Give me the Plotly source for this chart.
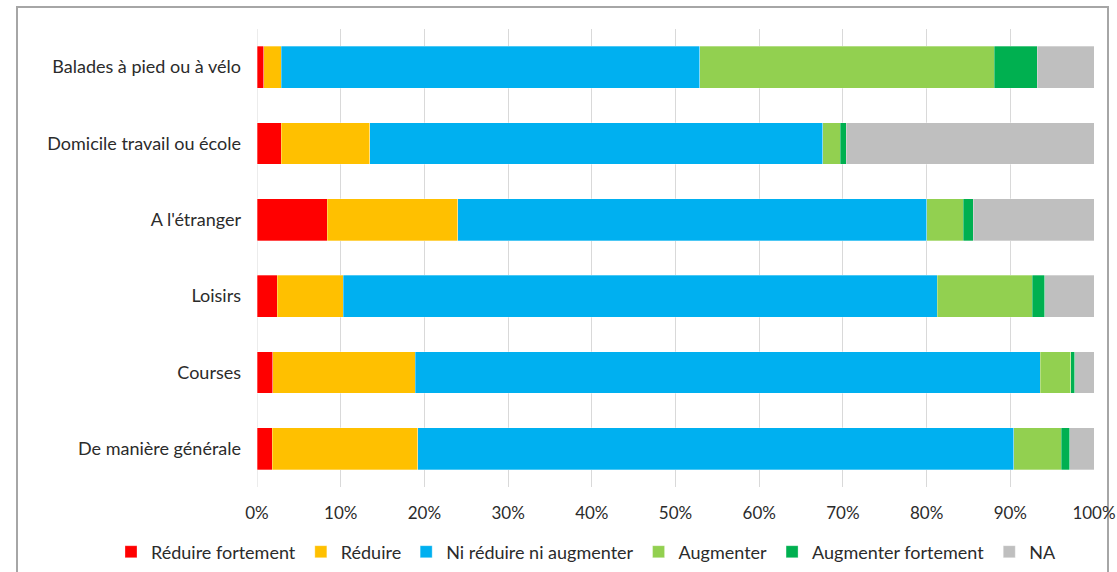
import plotly.graph_objects as go

categories = ["Balades à pied ou à vélo", "Domicile travail ou école", "A l'étranger",
              "Loisirs", "Courses", "De manière générale"]

series_names = ["Réduire fortement", "Réduire", "Ni réduire ni augmenter",
                "Augmenter", "Augmenter fortement", "NA"]

reduire_fortement = [0.8, 2.9, 8.4, 2.4, 1.9, 1.8]
reduire = [2.1, 10.6, 15.6, 7.9, 17.0, 17.4]
ni_reduire_ni_augmenter = [50.0, 54.1, 56.0, 71.0, 74.7, 71.2]
augmenter = [35.2, 2.1, 4.4, 11.3, 3.6, 5.7]
augmenter_fortement = [5.1, 0.7, 1.2, 1.5, 0.5, 1.0]
na = [6.8, 29.6, 14.5, 5.9, 2.3, 2.9]

tick_vals = [0, 10, 20, 30, 40, 50, 60, 70, 80, 90, 100]
tick_text = ["0%", "10%", "20%", "30%", "40%", "50%", "60%", "70%", "80%", "90%", "100%"]

colors = ["#FF0000", "#FFC000", "#00B0F0", "#92D050", "#00B050", "#BFBFBF"]
values = [reduire_fortement, reduire, ni_reduire_ni_augmenter, augmenter, augmenter_fortement, na]

FONT = "Lato, Noto Sans, sans-serif"
TXT = "#2b2b2b"

fig = go.Figure()
for name, vals, col in zip(series_names, values, colors):
    fig.add_trace(go.Bar(
        y=categories, x=vals, name=name, orientation="h",
        marker=dict(color=col, line=dict(color="rgba(255,255,255,0.5)", width=0.6)),
    ))

L, R, T, B = 257, 23, 29, 85
W, H = 1117, 572
pw = W - L - R
ph = H - T - B

def px_x(px):
    return (px - L) / pw

def px_y(py):
    return (H - B - py) / ph

fig.update_layout(
    barmode="stack",
    bargap=0.45,
    width=W, height=H,
    margin=dict(l=L, r=R, t=T, b=B, pad=0, autoexpand=False),
    paper_bgcolor="white",
    plot_bgcolor="white",
    font=dict(family=FONT, size=17, color=TXT),
    xaxis=dict(
        range=[0, 100], tickvals=tick_vals, ticktext=tick_text,
        showgrid=True, gridcolor="#D9D9D9", gridwidth=1,
        zeroline=False, showline=False, ticks="",
        ticklabelstandoff=14, tickfont=dict(size=17, family=FONT, color=TXT),
        fixedrange=True, automargin=False,
    ),
    yaxis=dict(
        categoryorder="array", categoryarray=categories, autorange="reversed",
        showgrid=False, zeroline=False, showline=False, ticks="",
        ticklabelstandoff=15, tickfont=dict(size=18, family=FONT, color=TXT),
        fixedrange=True, automargin=False,
    ),
    legend=dict(
        orientation="h", xref="paper", yref="paper",
        x=px_x(111), xanchor="left", y=px_y(552), yanchor="middle",
        font=dict(size=18, family=FONT, color=TXT), traceorder="normal",
        itemwidth=30, bgcolor="rgba(0,0,0,0)",
    ),
    shapes=[dict(
        type="rect", xref="paper", yref="paper",
        x0=px_x(17), x1=px_x(1108), y0=px_y(590), y1=px_y(7),
        line=dict(color="#A6A6A6", width=2), fillcolor="rgba(0,0,0,0)", layer="below",
    ), dict(
        type="line", xref="x", yref="paper", x0=0, x1=0, y0=0, y1=1,
        line=dict(color="#D9D9D9", width=1), layer="below",
    )],
)

fig.write_html("out.html", config={"displayModeBar": False, "staticPlot": False},
               post_script="document.body.style.margin='0';")
